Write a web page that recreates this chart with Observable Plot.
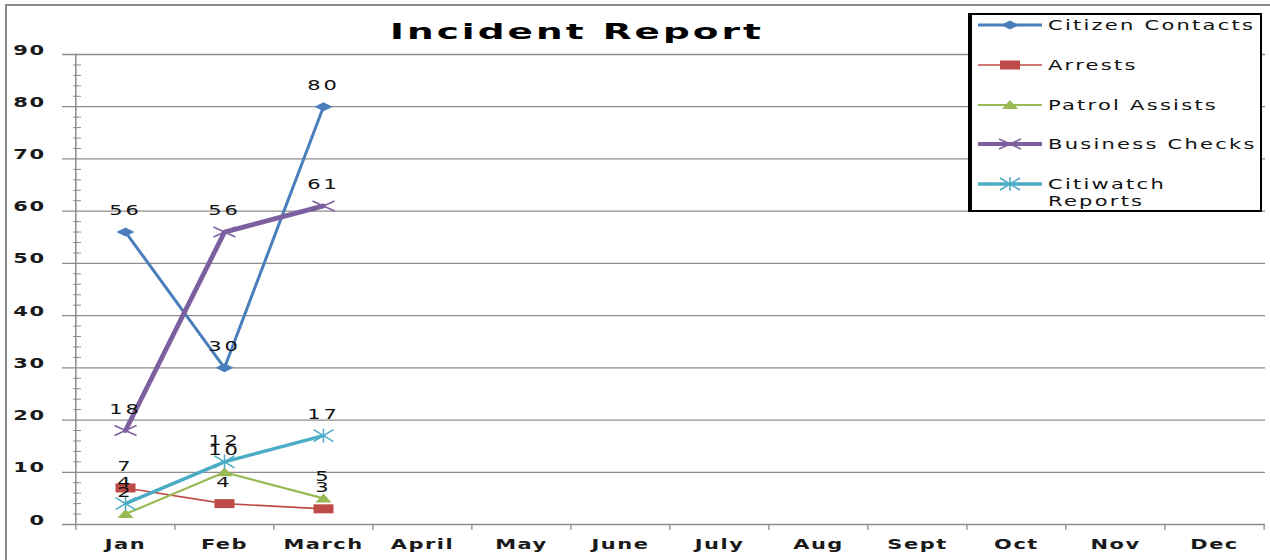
<!DOCTYPE html>
<html><head><meta charset="utf-8">
<script src="https://cdn.jsdelivr.net/npm/d3@7"></script>
<script src="https://cdn.jsdelivr.net/npm/@observablehq/plot@0.6"></script>
<style>
body{margin:0;background:#fff;}
#wrap{position:relative;width:1270px;height:560px;overflow:hidden;font-family:"DejaVu Sans",sans-serif;}
#border{position:absolute;left:5px;top:4px;width:1300px;height:600px;border-left:2px solid #8a8a8a;border-top:2px solid #8a8a8a;}
#chart{position:absolute;left:0;top:0;}
#title{position:absolute;left:0;top:21px;width:1154px;text-align:center;font-weight:bold;font-size:22px;line-height:22px;letter-spacing:1.8px;color:#000;transform:scaleX(1.7);transform-origin:577px 0;white-space:nowrap;}
#legend{position:absolute;left:968px;top:13px;width:294px;height:199px;box-sizing:border-box;border:2px solid #000;border-left-width:4px;background:#fff;}
.row{position:absolute;left:6px;height:20px;width:280px;}
.row svg{position:absolute;left:0;top:0;}
.row span{position:absolute;left:70px;top:2px;font-size:14px;line-height:17px;letter-spacing:1.5px;color:#111;transform:scaleX(1.5);transform-origin:0 0;white-space:nowrap;}
</style></head>
<body>
<div id="wrap">
  <div id="border"></div>
  <div id="chart"></div>
  <div id="title">Incident Report</div>
  <div id="legend"></div>
</div>
<script>
const months = ["Jan","Feb","March","April","May","June","July","Aug","Sept","Oct","Nov","Dec"];
const reportedMonths = ["Jan","Feb","March"];
const citizenContacts = [56, 30, 80];
const arrests = [7, 4, 3];
const patrolAssists = [2, 10, 5];
const businessChecks = [18, 56, 61];
const citiwatchReports = [4, 12, 17];
const seriesNames = ["Citizen Contacts","Arrests","Patrol Assists","Business Checks","Citiwatch Reports"];
const legendLabels = [["Citizen Contacts"],["Arrests"],["Patrol Assists"],["Business Checks"],["Citiwatch","Reports"]];
const seriesColors = ["#4a7ebb","#be4b48","#98b954","#7d5fa0","#4bacc6"];
const yTicks = [0,10,20,30,40,50,60,70,80,90];
const yMinorTicks = d3.range(2, 90, 2).filter(v => v % 10 !== 0);

const seriesValues = [citizenContacts, arrests, patrolAssists, businessChecks, citiwatchReports];
const lineWidths = [3, 1.6, 2.2, 4.8, 3.4];

const shapes = [
  {filled:true, draw(c){c.moveTo(0,-4.5);c.lineTo(9,0);c.lineTo(0,4.5);c.lineTo(-9,0);c.closePath();}},
  {filled:true, draw(c){c.rect(-10,-4.5,20,9);}},
  {filled:true, draw(c){c.moveTo(0,-5);c.lineTo(8,4);c.lineTo(-8,4);c.closePath();}},
  {filled:false, draw(c){c.moveTo(-11,-5);c.lineTo(11,5);c.moveTo(-11,5);c.lineTo(11,-5);}},
  {filled:false, draw(c){c.moveTo(-10,-6);c.lineTo(10,6);c.moveTo(-10,6);c.lineTo(10,-6);c.moveTo(0,-7);c.lineTo(0,7);}}
];

const rows = seriesNames.flatMap((name, i) =>
  seriesValues[i].map((v, j) => ({series: name, idx: i, month: reportedMonths[j], value: v})));

const W = 1270, H = 560, mL = 73, mR = 5, mT = 54, mB = 36;
const plotW = W - mL - mR;
const step = plotW / months.length;

const marks = [
  Plot.ruleY(yTicks, {y: d => d, stroke: "#8c8c8c", strokeWidth: 1.3, insetLeft: -11}),
  Plot.ruleY(yMinorTicks, {y: d => d, stroke: "#8c8c8c", strokeWidth: 1, insetRight: plotW - 8}),
  Plot.ruleX([months[0]], {x: d => d, dx: -step / 2, stroke: "#8c8c8c", strokeWidth: 1.5}),
  Plot.ruleX(months, {x: d => d, dx: -step / 2, y1: 0, y2: 0, insetBottom: -6, stroke: "#8c8c8c", strokeWidth: 1.3}),
  Plot.ruleX([months[months.length - 1]], {x: d => d, dx: step / 2, y1: 0, y2: 0, insetBottom: -6, stroke: "#8c8c8c", strokeWidth: 1.3}),
  Plot.axisY({ticks: yTicks, tickSize: 0, tickPadding: 28, fontSize: 14, fontWeight: "bold", fill: "#1a1a1a", label: null}),
  Plot.axisX({tickSize: 0, tickPadding: 24, fontSize: 14, fontWeight: "bold", fill: "#1a1a1a", label: null})
];
seriesNames.forEach((name, i) => {
  const d = rows.filter(r => r.idx === i);
  marks.push(Plot.line(d, {x: "month", y: "value", stroke: seriesColors[i], strokeWidth: lineWidths[i]}));
});
seriesNames.forEach((name, i) => {
  const d = rows.filter(r => r.idx === i);
  const s = shapes[i];
  marks.push(Plot.dot(d, {x: "month", y: "value", r: 5, symbol: {draw: s.draw},
    fill: s.filled ? seriesColors[i] : "none", stroke: s.filled ? "none" : seriesColors[i], strokeWidth: s.filled ? 0 : 1.5}));
});
marks.push(Plot.text(rows, {x: "month", y: "value", text: d => String(d.value), dy: -17, fontSize: 14, fill: "#111", className: "datalabel"}));

const chart = Plot.plot({
  width: W, height: H,
  marginLeft: mL, marginRight: mR, marginTop: mT, marginBottom: mB,
  style: {fontFamily: "DejaVu Sans", fontSize: "14px", background: "transparent", letterSpacing: "1px"},
  x: {type: "point", domain: months, padding: 0.5, axis: null, label: null},
  y: {domain: [0, 90], axis: null, label: null},
  marks
});
chart.querySelectorAll(".datalabel text").forEach(t => t.style.letterSpacing = "2px");
chart.querySelectorAll("text").forEach(t => {
  let tr = t.getAttribute("transform") || "";
  const x = t.getAttribute("x"), y = t.getAttribute("y");
  if (x != null || y != null) {
    tr += ` translate(${+x || 0},${+y || 0})`;
    t.removeAttribute("x"); t.removeAttribute("y");
  }
  t.setAttribute("transform", tr + " scale(1.5,1)");
});
document.getElementById("chart").appendChild(chart);

const legend = document.getElementById("legend");
seriesNames.forEach((name, i) => {
  const row = document.createElement("div");
  row.className = "row";
  row.style.top = (39.8 * i) + "px";
  const svg = d3.create("svg").attr("width", 70).attr("height", 20);
  svg.append("line").attr("x1", 0).attr("x2", 64).attr("y1", 10).attr("y2", 10)
    .attr("stroke", seriesColors[i]).attr("stroke-width", Math.min(lineWidths[i], 4));
  const p = d3.path(); shapes[i].draw(p);
  svg.append("path").attr("d", p.toString()).attr("transform", "translate(32,10)")
    .attr("fill", shapes[i].filled ? seriesColors[i] : "none")
    .attr("stroke", shapes[i].filled ? "none" : seriesColors[i]).attr("stroke-width", 1.5);
  row.appendChild(svg.node());
  const span = document.createElement("span");
  span.innerHTML = legendLabels[i].join("<br>");
  row.appendChild(span);
  legend.appendChild(row);
});
</script>
</body></html>
